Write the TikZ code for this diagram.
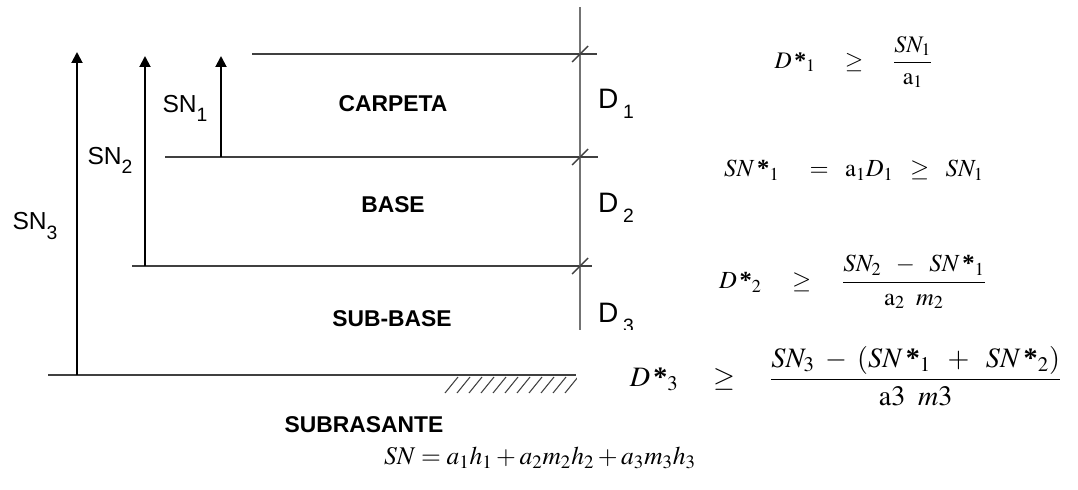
\documentclass[tikz,border=0pt]{standalone}
\usepackage{mathptmx}
\usepackage{fontspec}
\setmainfont{Liberation Serif}
\newfontfamily\arialf{Liberation Sans}
\usetikzlibrary{arrows.meta}
\newcommand{\lsub}[1]{\raisebox{-0.7ex}{\fontsize{11}{11}\selectfont #1}}
\newcommand{\stsub}[1]{\,\mbox{\bfseries *}{}_{#1}}

\begin{document}
\begin{tikzpicture}[x=0.02cm, y=-0.02cm,
  layerln/.style={draw=black!75, line width=0.8pt},
  dimln/.style={draw=black!55, line width=0.8pt},
  arr/.style={-{Triangle[length=2.2mm, width=2.2mm]}, line width=1.1pt},
  lbl/.style={font=\arialf\fontsize{14}{14}\selectfont, inner sep=0pt},
  lay/.style={font=\arialf\bfseries\fontsize{13}{13}\selectfont, inner sep=0pt},
  dimlbl/.style={font=\arialf\fontsize{16}{16}\selectfont, inner sep=0pt},
  eq/.style={inner sep=0pt}]
\useasboundingbox (0,0) rectangle (1078,490);
% layer boundaries
\coordinate (top l) at (252,54);  \coordinate (top r) at (597,54);
\coordinate (cb l) at (165,157);  \coordinate (cb r) at (598,157);
\coordinate (bs l) at (132,266);  \coordinate (bs r) at (592,266);
\coordinate (gr l) at (48,375);   \coordinate (gr r) at (576,375);
\draw[layerln] (top l) -- (top r);
\draw[layerln] (cb l) -- (cb r);
\draw[layerln] (bs l) -- (bs r);
\draw[layerln, line width=1pt] (gr l) -- (gr r);
% subgrade hatching
\foreach \x in {445,457,...,565} \draw[layerln, line width=0.6pt] (\x,393) -- (\x+13,377);
% thickness line with ticks
\coordinate (dim t) at (580,7); \coordinate (dim b) at (580,330);
\draw[dimln] (dim t) -- (dim b);
\foreach \y in {54,157,266} \draw[layerln] (572,\y+8) -- (588,\y-8);
% structural numbers
\coordinate (sn3 b) at (77,375);  \coordinate (sn3 t) at (77,52);
\coordinate (sn2 b) at (145,266); \coordinate (sn2 t) at (145,56);
\coordinate (sn1 b) at (221,157); \coordinate (sn1 t) at (221,56);
\draw[arr] (sn3 b) -- (sn3 t);
\draw[arr] (sn2 b) -- (sn2 t);
\draw[arr] (sn1 b) -- (sn1 t);
\node[lbl] (sn1) at (185,108) {SN\lsub{1}};
\node[lbl] (sn2) at (110,160) {SN\lsub{2}};
\node[lbl] (sn3) at (35,226) {SN\lsub{3}};
% layers
\node[lay] (carpeta) at (393,104) {CARPETA};
\node[lay] (base) at (393,205) {BASE};
\node[lay] (subbase) at (392,319) {SUB-BASE};
\node[lay] (subrasante) at (364,425) {SUBRASANTE};
\node[dimlbl] (d1) at (616,104) {D\,\lsub{1}};
\node[dimlbl] (d2) at (616,208) {D\,\lsub{2}};
\node[dimlbl] (d3) at (616,318) {D\,\lsub{3}};
% pasted equations cover the lower right
\fill[white] (577,330) rectangle (1078,412);
\node[eq, font=\fontsize{13.5}{13.5}\selectfont] (eq1) at (854,62)
  {$D\stsub{1}\quad\geq\quad\displaystyle\frac{SN_1}{\mathrm{a}_1}$};
\node[eq, font=\fontsize{14}{14}\selectfont] (eq2) at (854,170)
  {$SN\stsub{1}\quad=\;\;\mathrm{a}_1D_1\;\;\geq\;\; SN_1$};
\node[eq, font=\fontsize{14}{14}\selectfont] (eq3) at (853,282)
  {$D\stsub{2}\quad\geq\quad\displaystyle\frac{SN_2\;\;-\;\;SN\stsub{1}}{\mathrm{a}_2\;\;m_2}$};
\node[eq, font=\fontsize{16}{16}\selectfont] (eq4) at (846,376)
  {$D\stsub{3}\quad\geq\quad\displaystyle\frac{SN_3\;-\;(SN\stsub{1}\;\;+\;\;SN\stsub{2})}{\mathrm{a}3\;\;m3}$};
\node[eq, font=\fontsize{14.5}{14.5}\selectfont] (eqsn) at (540,458)
  {$SN = a_1h_1 + a_2m_2h_2 + a_3m_3h_3$};
\end{tikzpicture}
\end{document}
